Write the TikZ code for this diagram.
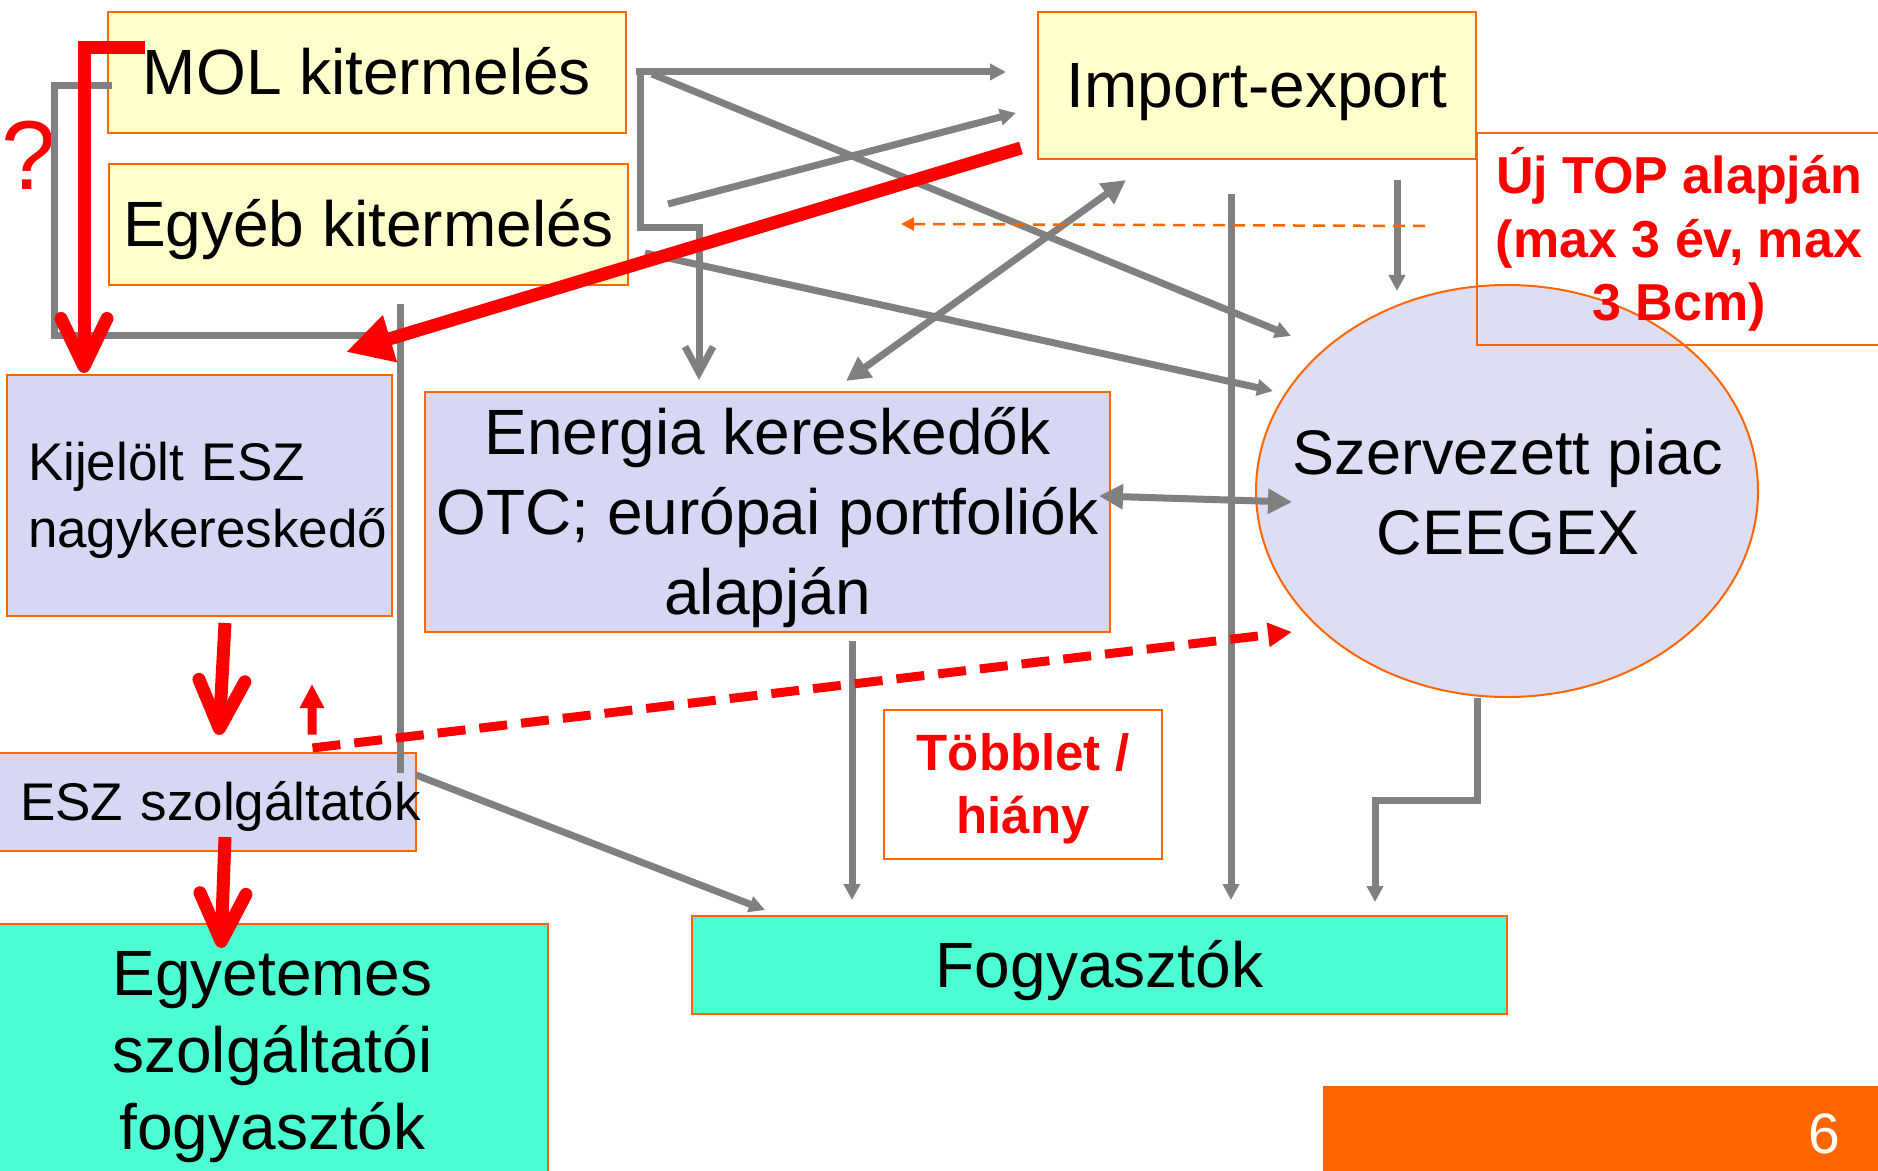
\documentclass[tikz,border=0pt]{standalone}
\usepackage{fontspec}
\setmainfont{Liberation Sans}
\usetikzlibrary{arrows.meta,shapes.geometric}
\definecolor{yel}{RGB}{255,255,204}
\definecolor{lav}{RGB}{214,215,243}
\definecolor{lavE}{RGB}{221,222,244}
\definecolor{aqua}{RGB}{76,255,210}
\definecolor{ora}{RGB}{255,102,0}
\definecolor{gry}{RGB}{128,128,128}
\newcommand\ps{\rule[-0.212em]{0pt}{1.117em}}
\begin{document}
\begin{tikzpicture}[x=0.5pt,y=-0.5pt,
  box/.style={draw=ora, line width=1pt, inner sep=0pt, rectangle},
  bigf/.style={font=\fontsize{32}{40}\selectfont},
  midf/.style={font=\fontsize{26.5}{33.5}\selectfont},
  gline/.style={draw=gry, line width=3.5pt},
  garr/.style={gline, -{Triangle[length=8pt,width=8pt]}},
  gdbl/.style={gline, {Triangle[length=12pt,width=12pt]}-{Triangle[length=12pt,width=12pt]}},
  rbarb/.style={draw=red, line width=6.5pt, -{Straight Barb[length=24pt,width=23pt,round]}},
  rthick/.style={draw=red, line width=6.5pt, -{Triangle[length=23pt,width=23pt]}},
  rdash/.style={draw=red, line width=4.5pt, dash pattern=on 14pt off 7pt, {Triangle[length=12pt,width=11.5pt]}-{Triangle[length=12pt,width=11.5pt]}},
  odash/.style={draw=ora, line width=1.25pt, dash pattern=on 6pt off 4pt, -{Triangle[length=6.5pt,width=6.5pt]}}
]
\useasboundingbox (0,0) rectangle (1878,1171);

% boxes
\node[box, fill=yel, minimum width=259pt, minimum height=60.5pt, bigf] (mol) at (367,72.5) {\ps MOL kitermelés};
\node[box, fill=yel, minimum width=259.5pt, minimum height=60.5pt, bigf] (egy) at (368.5,224.5) {\ps Egyéb kitermelés};
\node[box, fill=yel, minimum width=219pt, minimum height=73.5pt, bigf] (imp) at (1257,85.5) {\ps Import-export};
\node[box, fill=lav, text width=171.5pt, inner xsep=10.5pt, inner ysep=0pt, minimum height=120.5pt, align=left, midf] (kij) at (199.5,495.5) {\ps Kijelölt ESZ\\\ps\mbox{nagykereskedő}};
\node[box, fill=lav, text width=186.5pt, inner xsep=11.5pt, inner ysep=0pt, minimum height=49pt, align=left, midf] (esz) at (206.5,802) {\ps\mbox{ESZ szolgáltatók}};
\node[box, fill=lav, minimum width=342.5pt, minimum height=120pt, align=center, bigf] (ene) at (767.5,512) {\ps Energia kereskedők\\\ps OTC; európai portfoliók\\\ps alapján};
\node[ellipse, draw=ora, line width=1pt, fill=lavE, minimum width=251pt, minimum height=206pt, inner sep=0pt] (sze) at (1507,491) {};
\node[align=center, font=\fontsize{31.5}{40}\selectfont, inner sep=0pt] (szet) at (1508,492.5) {\ps Szervezett piac\\\ps CEEGEX};
\node[box, fill=aqua, minimum width=407.5pt, minimum height=49pt, bigf] (fog) at (1099.5,965) {\ps Fogyasztók};
\node[box, fill=aqua, minimum width=275.5pt, minimum height=126pt, align=center, font=\fontsize{32}{38.5}\selectfont] (egyf) at (272.5,1050) {\ps Egyetemes\\\ps szolgáltatói\\\ps fogyasztók};
\node[box, minimum width=139pt, minimum height=74.5pt, align=center, text=red, font=\bfseries\fontsize{25.5}{31.5}\selectfont] (tob) at (1023,784.5) {\ps Többlet /\\\ps hiány};
\node[fill=ora, inner sep=0pt, minimum width=278.5pt, minimum height=44.5pt] (bar) at (1601.5,1130.5) {};
\node[text=white, font=\fontsize{28.5}{34}\selectfont, inner sep=0pt] (pg) at (1824,1134) {\ps 6};
\node[text=red, font=\fontsize{49}{55}\selectfont, inner sep=0pt] (q) at (29,156) {\ps ?};

% coordinates
\coordinate (c1s) at (636,72);   \coordinate (c1e) at (1006,72);
\coordinate (c2s) at (640,72);   \coordinate (c2b) at (699,228);  \coordinate (c2e) at (699,380);
\coordinate (c3s) at (668,204);  \coordinate (c3e) at (1016,113);
\coordinate (c4s) at (652,74);   \coordinate (c4e) at (1291,336);
\coordinate (c5s) at (645,253);  \coordinate (c5e) at (1273,391);
\coordinate (c6s) at (846,381);  \coordinate (c6e) at (1126,180);
\coordinate (c7s) at (1397,180); \coordinate (c7e) at (1397,291);
\coordinate (c8s) at (1231,194); \coordinate (c8e) at (1231,900);
\coordinate (c9s) at (1099,496); \coordinate (c9e) at (1292,502);
\coordinate (c10s) at (852,641); \coordinate (c10e) at (852,900);
\coordinate (c11s) at (1477,698); \coordinate (c11b) at (1375,800); \coordinate (c11e) at (1375,902);
\coordinate (c12s) at (112,86);  \coordinate (c12b) at (54,336); \coordinate (c12e) at (397,336);
\coordinate (c13s) at (400,304); \coordinate (c13e) at (400,773);
\coordinate (c14s) at (416,775); \coordinate (c14e) at (765,910);
\coordinate (r1s) at (145,48);   \coordinate (r1e) at (84,373);
\coordinate (r2s) at (1021,148); \coordinate (r2e) at (346,352);
\coordinate (r3s) at (225,623);  \coordinate (r3e) at (219,735);
\coordinate (r4s) at (225,837);  \coordinate (r4e) at (221,948);
\coordinate (r5s) at (312,684);  \coordinate (r5a) at (312,748); \coordinate (r5e) at (1292,632);
\coordinate (o1s) at (1425,226); \coordinate (o1e) at (901,224);

% grey connectors
\draw[garr] (c1s) -- (c1e);
\draw[gline, -{Straight Barb[length=13pt,width=14pt]}] (c2s) |- (c2b) -- (c2e);
\draw[garr] (c3s) -- (c3e);
\draw[garr] (c4s) -- (c4e);
\draw[garr] (c5s) -- (c5e);
\draw[gdbl] (c6s) -- (c6e);
\draw[garr] (c7s) -- (c7e);
\draw[garr] (c8s) -- (c8e);
\draw[gdbl] (c9s) -- (c9e);
\draw[garr] (c10s) -- (c10e);
\draw[garr] (c11s) |- (c11b) -- (c11e);
\draw[gline] (c12s) -| (c12b) -- (c12e);
\draw[gline] (c13s) -- (c13e);
\draw[garr] (c14s) -- (c14e);

% orange dashed
\draw[odash] (o1s) -- (o1e);

% red
\draw[rbarb] (r1s) -| (r1e);
\draw[rthick] (r2s) -- (r2e);
\draw[rbarb] (r3s) -- (r3e);
\draw[rbarb] (r4s) -- (r4e);
\draw[rdash] (r5s) -- (r5a) -- (r5e);

% TOP box on top
\node[draw=ora, line width=1pt, minimum width=202pt, minimum height=106pt, inner sep=0pt, align=center, text=red, font=\bfseries\fontsize{26}{31.75}\selectfont] (top) at (1679,239) {\ps Új TOP alapján\\\ps (max 3 év, max\\\ps 3 Bcm)};
\end{tikzpicture}
\end{document}
